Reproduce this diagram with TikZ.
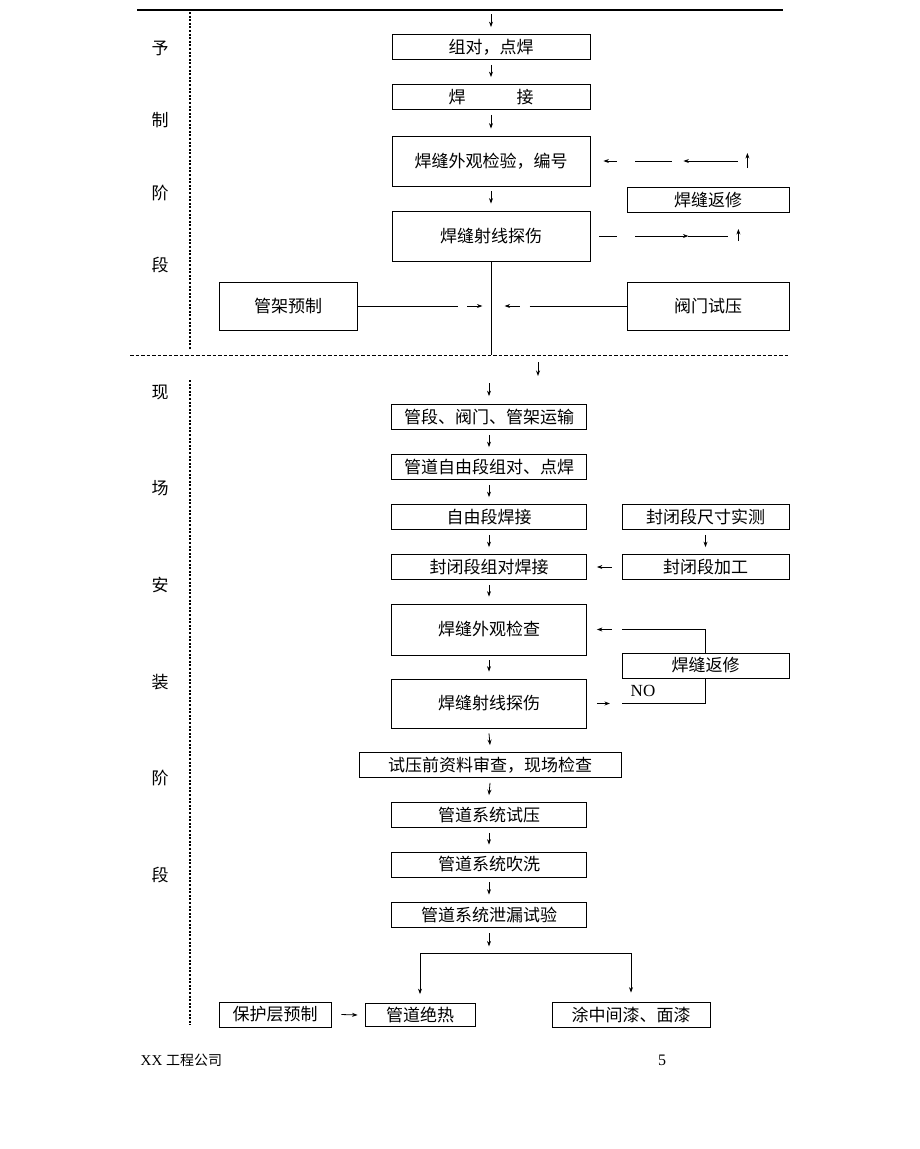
\documentclass[tikz,border=0pt]{standalone}
\usepackage{fontspec}
\setmainfont{Liberation Serif}
\newfontfamily\cjk{Noto Sans CJK SC}
\usetikzlibrary{arrows.meta,positioning,calc}

\begin{document}
\begin{tikzpicture}[x=1pt, y=-1pt, line width=0.8pt,
                >={Stealth[length=5.5pt,width=4pt]}]
        \tikzset{
                basic/.style  = {draw, inner sep=0pt, align=center,
                                font=\cjk\fontsize{17}{19}\selectfont},
                box/.style    = {basic, minimum width=198pt, minimum height=25pt},
                big/.style    = {basic, minimum width=198pt, minimum height=50pt},
                site/.style   = {box, minimum width=195pt},
                side/.style   = {basic, draw=none},
                divide/.style = {line width=1.3pt, dash pattern=on 2pt off 1.6pt}
        }
        \useasboundingbox (0,0) rectangle (920,1149);

        % page rule, end of the previous page
        \draw[line width=1.2pt] (137,10) -- (783,10);
        \draw[line width=2.4pt] (392,10) -- (590,10);
        \coordinate (top) at (491,10);

        % phase labels and dividers
        \foreach \ch [count=\i] in {予,制,阶,段}
                \node[side] (p\i) at (160,{48+72.3*(\i-1)}) {\ch};
        \foreach \ch [count=\i] in {现,场,安,装,阶,段}
                \node[side] (s\i) at (160,{392+96.6*(\i-1)}) {\ch};
        \draw[divide] (190,12) -- (190,350);
        \draw[divide] (190,380) -- (190,1025);
        \draw[line width=1pt, dash pattern=on 3.5pt off 2pt] (130,355) -- (788,355);

        % prefabrication
        \node[box] (a1) at (491,47) {组对，点焊};
        \node[box] (a2) at (491,97) {焊\hspace{3em}接};
        \node[big] (a3) at (491,161) {焊缝外观检验，编号};
        \node[big] (a4) at (491,236) {焊缝射线探伤};
        \node[box, minimum width=162pt] (r1) at (708,200) {焊缝返修};
        \node[basic, minimum width=138pt, minimum height=48pt] (g1) at (288,306) {管架预制};
        \node[basic, minimum width=162pt, minimum height=48pt] (v1) at (708,306) {阀门试压};

        \draw[->] ([yshift=-4pt]top) -- ([yshift=7pt]a1.north);
        \foreach \u/\v in {a1/a2,a2/a3,a3/a4}
                \draw[->] ([yshift=-5pt]\u.south) -- ([yshift=7pt]\v.north);

        % repair loop, drawn in pieces
        \draw[<-] ([xshift=13pt]a3.east) -- ++(14,0);
        \draw ([xshift=45pt]a3.east) -- ++(37,0);
        \draw[<-] ([xshift=93pt]a3.east) -- ++(55,0);
        \draw[->] ([xshift=157pt,yshift=-7pt]a3.east) -- ++(0,-15);
        \draw ([xshift=9pt]a4.east) -- ++(18,0);
        \draw[->] ([xshift=45pt]a4.east) -- ++(53,0);
        \draw ([xshift=98pt]a4.east) -- ++(40,0);
        \draw[->] ([xshift=148pt,yshift=-5pt]a4.east) -- ++(0,-12);

        % pipe supports and valves join the line
        \coordinate (mid) at (a4.south |- 0,355);
        \draw (a4.south) -- (mid);
        \draw (g1.east) -- ++(101,0);
        \draw[->] ([xshift=110pt]g1.east) -- ++(15,0);
        \draw[<-] ([xshift=-122pt]v1.west) -- ++(15,0);
        \draw ([xshift=-97pt]v1.west) -- (v1.west);
        \coordinate (low) at (538,362);
        \draw[->] (low) -- ++(0,14);

        % site installation
        \node[site] (b1) at (489,417) {管段、阀门、管架运输};
        \node[site] (b2) at (489,467) {管道自由段组对、点焊};
        \node[site] (b3) at (489,517) {自由段焊接};
        \node[site] (b4) at (489,567) {封闭段组对焊接};
        \node[site, minimum height=51pt] (b5) at (489,629.5) {焊缝外观检查};
        \node[site, minimum height=49pt] (b6) at (489,703.5) {焊缝射线探伤};
        \node[site, minimum width=262pt] (b7) at (490,765) {试压前资料审查，现场检查};
        \node[site] (b8) at (489,815) {管道系统试压};
        \node[site] (b9) at (489,864.5) {管道系统吹洗};
        \node[site] (b10) at (489,914.5) {管道系统泄漏试验};
        \node[box, minimum width=167pt] (e1) at (705.5,517) {封闭段尺寸实测};
        \node[box, minimum width=167pt] (e2) at (705.5,567) {封闭段加工};
        \node[box, minimum width=167pt] (r2) at (705.5,665.5) {焊缝返修};
        \node[font=\fontsize{17}{19}\selectfont] (no) at (643,691) {NO};

        \coordinate (start) at (489,383);
        \draw[->] (start) -- ([yshift=8pt]b1.north);
        \foreach \u/\v in {b1/b2,b2/b3,b3/b4,b4/b5,b5/b6,b6/b7,b7/b8,b8/b9,b9/b10}
                \draw[->] ([yshift=-5pt]\u.south) -- ([yshift=7pt]\v.north);
        \draw[->] ([yshift=-5pt]e1.south) -- ([yshift=7pt]e2.north);
        \draw[->] ([xshift=-10pt]e2.west) -- ([xshift=10pt]b4.east);

        % second repair loop
        \draw (r2.north) |- ([xshift=35pt]b5.east);
        \draw[->] ([xshift=25pt]b5.east) -- ([xshift=10pt]b5.east);
        \draw (r2.south) |- ([xshift=35pt]b6.east);
        \draw[->] ([xshift=10pt]b6.east) -- ([xshift=23pt]b6.east);

        % final branches
        \node[basic, minimum width=110pt, minimum height=23pt] (c1) at (420,1015) {管道绝热};
        \node[basic, minimum width=158pt, minimum height=25pt] (c2) at (631,1014.5) {涂中间漆、面漆};
        \node[basic, minimum width=112pt, minimum height=25pt] (c0) at (275,1014.5) {保护层预制};
        \coordinate (fork) at (489,953);
        \draw[->] ([yshift=-6pt]b10.south) -- ++(0,13);
        \draw[->] (fork) -| ([yshift=9pt]c1.north);
        \draw[->] (fork) -| ([yshift=9pt]c2.north);
        \draw[->] ([xshift=10pt]c0.east) -- ([xshift=-7pt]c1.west);

        % footer
        \node[anchor=west, font=\fontsize{15}{17}\selectfont] (foot) at (137,1060)
                {XX {\cjk\fontsize{14}{16}\selectfont 工程公司}};
        \node[font=\fontsize{16}{18}\selectfont] (page) at (662,1060) {5};
\end{tikzpicture}
\end{document}
